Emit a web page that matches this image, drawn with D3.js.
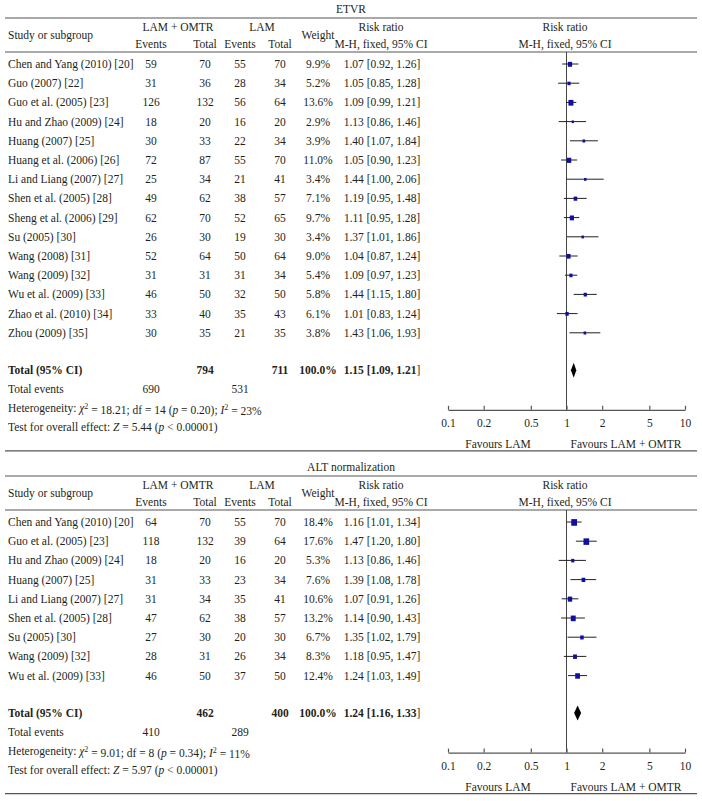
<!DOCTYPE html>
<html><head><meta charset="utf-8">
<script src="https://cdn.jsdelivr.net/npm/d3@7"></script>
<style>
html,body{margin:0;padding:0;background:#fff;}
svg{display:block;font-family:"Liberation Serif","Times New Roman",serif;}
</style></head><body>
<svg id="chart" width="702" height="801"></svg>
<script>
// ---------- ETVR data ----------
const etvrStudies = ["Chen and Yang (2010) [20]","Guo (2007) [22]","Guo et al. (2005) [23]","Hu and Zhao (2009) [24]","Huang (2007) [25]","Huang et al. (2006) [26]","Li and Liang (2007) [27]","Shen et al. (2005) [28]","Sheng et al. (2006) [29]","Su (2005) [30]","Wang (2008) [31]","Wang (2009) [32]","Wu et al. (2009) [33]","Zhao et al. (2010) [34]","Zhou (2009) [35]"];
const etvrEventsA = [59,31,126,18,30,72,25,49,62,26,52,31,46,33,30];
const etvrTotalA  = [70,36,132,20,33,87,34,62,70,30,64,31,50,40,35];
const etvrEventsB = [55,28,56,16,22,55,21,38,52,19,50,31,32,35,21];
const etvrTotalB  = [70,34,64,20,34,70,41,57,65,30,64,34,50,43,35];
const etvrWeight  = [9.9,5.2,13.6,2.9,3.9,11.0,3.4,7.1,9.7,3.4,9.0,5.4,5.8,6.1,3.8];
const etvrRR      = [1.07,1.05,1.09,1.13,1.40,1.05,1.44,1.19,1.11,1.37,1.04,1.09,1.44,1.01,1.43];
const etvrLo      = [0.92,0.85,0.99,0.86,1.07,0.90,1.00,0.95,0.95,1.01,0.87,0.97,1.15,0.83,1.06];
const etvrHi      = [1.26,1.28,1.21,1.46,1.84,1.23,2.06,1.48,1.28,1.86,1.24,1.23,1.80,1.24,1.93];
const etvrTotals  = {totalA:794,totalB:711,eventsA:690,eventsB:531,rr:1.15,lo:1.09,hi:1.21,chi2:"18.21",df:"14",p:"0.20",i2:"23%",z:"5.44"};

// ---------- ALT normalization data ----------
const altStudies = ["Chen and Yang (2010) [20]","Guo et al. (2005) [23]","Hu and Zhao (2009) [24]","Huang (2007) [25]","Li and Liang (2007) [27]","Shen et al. (2005) [28]","Su (2005) [30]","Wang (2009) [32]","Wu et al. (2009) [33]"];
const altEventsA = [64,118,18,31,31,47,27,28,46];
const altTotalA  = [70,132,20,33,34,62,30,31,50];
const altEventsB = [55,39,16,23,35,38,20,26,37];
const altTotalB  = [70,64,20,34,41,57,30,34,50];
const altWeight  = [18.4,17.6,5.3,7.6,10.6,13.2,6.7,8.3,12.4];
const altRR      = [1.16,1.47,1.13,1.39,1.07,1.14,1.35,1.18,1.24];
const altLo      = [1.01,1.20,0.86,1.08,0.91,0.90,1.02,0.95,1.03];
const altHi      = [1.34,1.80,1.46,1.78,1.26,1.43,1.79,1.47,1.49];
const altTotals  = {totalA:462,totalB:400,eventsA:410,eventsB:289,rr:1.24,lo:1.16,hi:1.33,chi2:"9.01",df:"8",p:"0.34",i2:"11%",z:"5.97"};

const axisTicks = [0.1,0.2,0.5,1,2,5,10];
const axisTickLabels = ["0.1","0.2","0.5","1","2","5","10"];

const svg = d3.select("#chart");
const FS = 11.5;
const TXT = "#231f20";
const LINE = "#555";
const x = d3.scaleLog().domain([0.1,10]).range([448,685]);
const fmt2 = d3.format(".2f");
const fmt1 = d3.format(".1f");

const col = {study:8, evA:151, totA:205, evB:240, totB:280, weight:318, rrText:382, plot:566};

function t(g, xx, yy, s, anchor, bold){
  return g.append("text").attr("x",xx).attr("y",yy).attr("dy","0.35em")
    .attr("font-size",FS).attr("fill",TXT)
    .attr("text-anchor",anchor||"middle")
    .attr("font-weight",bold?"bold":null).text(s);
}

function drawPanel(title, y0, d){
  const g = svg.append("g").attr("transform",`translate(0,${y0})`);
  const n = d.studies.length;
  const step = 19.2;
  const rowY0 = 64;
  const rowY = i => rowY0 + i*step;
  const lastY = rowY(n-1);
  const totY = lastY + 37.5;
  const axisY = totY + 39.5;

  t(g, 351, 9, title);
  g.append("line").attr("x1",5).attr("x2",697).attr("y1",18).attr("y2",18).attr("stroke",LINE).attr("stroke-width",1.2);
  t(g, col.study, 35, "Study or subgroup", "start");
  t(g, 178, 27, "LAM + OMTR");
  t(g, 262, 27, "LAM");
  t(g, col.weight, 35, "Weight");
  t(g, 381, 27, "Risk ratio");
  t(g, 565, 27, "Risk ratio");
  t(g, col.evA, 44, "Events");
  t(g, col.totA, 44, "Total");
  t(g, col.evB, 44, "Events");
  t(g, col.totB, 44, "Total");
  t(g, 381, 44, "M-H, fixed, 95% CI");
  t(g, 565, 44, "M-H, fixed, 95% CI");
  g.append("line").attr("x1",5).attr("x2",697).attr("y1",52).attr("y2",52).attr("stroke",LINE).attr("stroke-width",1.2);

  // vertical line of no effect
  g.append("line").attr("x1",x(1)).attr("x2",x(1)).attr("y1",52).attr("y2",axisY).attr("stroke","#444").attr("stroke-width",1);

  for(let i=0;i<n;i++){
    const yy = rowY(i);
    t(g, col.study, yy, d.studies[i], "start");
    t(g, col.evA, yy, d.evA[i]);
    t(g, col.totA, yy, d.totA[i]);
    t(g, col.evB, yy, d.evB[i]);
    t(g, col.totB, yy, d.totB[i]);
    t(g, col.weight, yy, fmt1(d.w[i])+"%");
    t(g, col.rrText, yy, `${fmt2(d.rr[i])} [${fmt2(d.lo[i])}, ${fmt2(d.hi[i])}]`);
    g.append("line").attr("x1",x(d.lo[i])).attr("x2",x(d.hi[i])).attr("y1",yy).attr("y2",yy)
      .attr("stroke","#222").attr("stroke-width",1);
    const s = 1.35*Math.sqrt(d.w[i]);
    g.append("rect").attr("x",x(d.rr[i])-s/2).attr("y",yy-s/2).attr("width",s).attr("height",s*1.15).attr("fill","#1010a0");
  }

  // totals
  t(g, col.study, totY, "Total (95% CI)", "start", true);
  t(g, col.totA, totY, d.T.totalA, "middle", true);
  t(g, col.totB, totY, d.T.totalB, "middle", true);
  t(g, col.weight, totY, "100.0%", "middle", true);
  const rt = t(g, col.rrText, totY, "", "middle", false);
  rt.append("tspan").attr("font-weight","bold").text(`${fmt2(d.T.rr)} [${fmt2(d.T.lo)}, ${fmt2(d.T.hi)}`);
  rt.append("tspan").text("]");
  const dh = 7.5;
  g.append("path").attr("d",`M${x(d.T.lo)},${totY} L${x(d.T.rr)},${totY-dh} L${x(d.T.hi)},${totY} L${x(d.T.rr)},${totY+dh} Z`).attr("fill","#000");

  t(g, col.study, totY+19, "Total events", "start");
  t(g, col.evA, totY+19, d.T.eventsA);
  t(g, col.evB, totY+19, d.T.eventsB);

  const het = t(g, col.study, totY+38, "", "start");
  het.append("tspan").text("Heterogeneity: ");
  het.append("tspan").attr("font-style","italic").text("χ");
  het.append("tspan").attr("font-size",8).attr("dy","-0.45em").text("2");
  het.append("tspan").attr("dy","0.45em").text(` = ${d.T.chi2}; df = ${d.T.df} (`);
  het.append("tspan").attr("font-style","italic").text("p");
  het.append("tspan").text(` = ${d.T.p}); `);
  het.append("tspan").attr("font-style","italic").text("I");
  het.append("tspan").attr("font-size",8).attr("dy","-0.45em").text("2");
  het.append("tspan").attr("dy","0.45em").text(` = ${d.T.i2}`);

  const te = t(g, col.study, totY+57, "", "start");
  te.append("tspan").text("Test for overall effect: ");
  te.append("tspan").attr("font-style","italic").text("Z");
  te.append("tspan").text(` = ${d.T.z} (`);
  te.append("tspan").attr("font-style","italic").text("p");
  te.append("tspan").text(" < 0.00001)");

  // axis
  const ax = d3.axisBottom(x).tickValues(axisTicks).tickFormat((v,i)=>axisTickLabels[i])
    .tickSizeInner(-4).tickSizeOuter(0).tickPadding(9);
  const ag = g.append("g").attr("transform",`translate(0,${axisY})`).call(ax);
  ag.select(".domain").attr("stroke",LINE).attr("stroke-width",1.2);
  ag.selectAll(".tick line").attr("stroke",LINE).attr("stroke-width",1.2);
  ag.selectAll(".tick text").attr("font-size",FS).attr("fill",TXT).attr("font-family","Liberation Serif, serif");
  t(g, 498, axisY+34, "Favours LAM");
  t(g, 626, axisY+34, "Favours LAM + OMTR");
  g.append("line").attr("x1",5).attr("x2",697).attr("y1",axisY+41).attr("y2",axisY+41).attr("stroke",LINE).attr("stroke-width",1.2);
}

drawPanel("ETVR", 0, {studies:etvrStudies, evA:etvrEventsA, totA:etvrTotalA, evB:etvrEventsB, totB:etvrTotalB, w:etvrWeight, rr:etvrRR, lo:etvrLo, hi:etvrHi, T:etvrTotals});
drawPanel("ALT normalization", 458, {studies:altStudies, evA:altEventsA, totA:altTotalA, evB:altEventsB, totB:altTotalB, w:altWeight, rr:altRR, lo:altLo, hi:altHi, T:altTotals});
</script>
</body></html>
